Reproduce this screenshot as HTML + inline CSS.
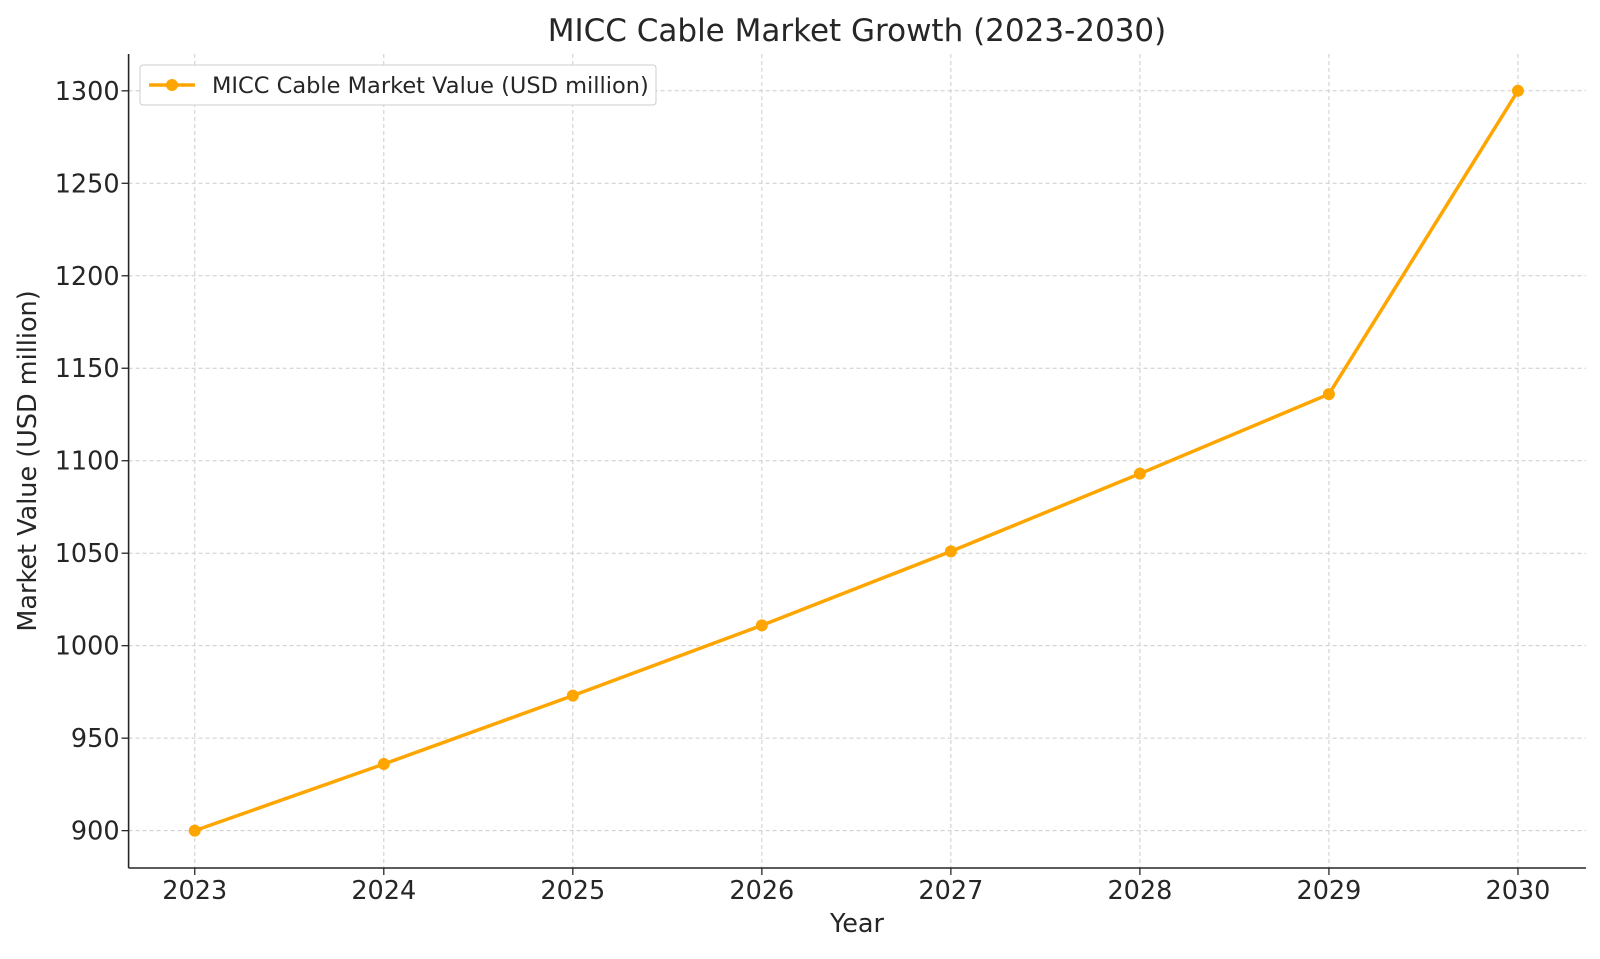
<!DOCTYPE html>
<html><head><meta charset="utf-8"><style>
body{margin:0;background:#fff;}
svg text{font-family:"DejaVu Sans","Liberation Sans",sans-serif;fill:#262626;}
</style></head><body>
<svg id="chart" width="1600" height="954" viewBox="0 0 1600 954">
<text x="857" y="41" font-size="31" text-anchor="middle">MICC Cable Market Growth (2023-2030)</text>
<text x="857" y="932" font-size="25.5" text-anchor="middle">Year</text>
<text transform="translate(36,461) rotate(-90)" font-size="25.5" text-anchor="middle">Market Value (USD million)</text>
<g id="grid"></g><g id="series"></g><g id="axes"></g>
<g>
<rect x="140" y="65" width="516" height="40" fill="#fff" stroke="#ccc" rx="3"/>
<line x1="149" y1="85" x2="195" y2="85" stroke="#FFA500" stroke-width="3.5"/>
<circle cx="172" cy="85" r="6" fill="#FFA500"/>
<text x="212" y="93" font-size="22.5">MICC Cable Market Value (USD million)</text>
</g>
</svg>
<script>
const years=[2023,2024,2025,2026,2027,2028,2029,2030];
const values=[900,936,973,1011,1051,1093,1136,1300];
const yTicks=[900,950,1000,1050,1100,1150,1200,1250,1300];
const L=128.6,R=1586,T=54,B=868,xMin=2022.65,xMax=2030.36,yMin=879.8,yMax=1319.9;
const sx=v=>L+(v-xMin)/(xMax-xMin)*(R-L);
const sy=v=>B-(v-yMin)/(yMax-yMin)*(B-T);
const NS="http://www.w3.org/2000/svg";
function mk(tag,attrs,parent){const e=document.createElementNS(NS,tag);for(const k in attrs)e.setAttribute(k,attrs[k]);parent.appendChild(e);return e;}
const grid=document.getElementById('grid'),axes=document.getElementById('axes'),series=document.getElementById('series');
years.forEach(y=>{
 const g=mk('line',{x1:sx(y),x2:sx(y),y1:T,y2:B,stroke:'#ccc','stroke-dasharray':'4,3','stroke-width':1},grid);
 
 
 mk('line',{x1:sx(y),x2:sx(y),y1:B,y2:B+7,stroke:'#262626','stroke-width':1.3},axes);
 const t=mk('text',{x:sx(y),y:B+31,'font-size':25.5,'text-anchor':'middle'},axes);t.textContent=y;
 
 
});
yTicks.forEach(v=>{
 const g=mk('line',{x1:L,x2:R,y1:sy(v),y2:sy(v),stroke:'#ccc','stroke-dasharray':'4,3','stroke-width':1},grid);
 
 
 mk('line',{x1:L-7,x2:L,y1:sy(v),y2:sy(v),stroke:'#262626','stroke-width':1.3},axes);
 const t=mk('text',{x:L-9,y:sy(v)+9,'font-size':25.5,'text-anchor':'end'},axes);t.textContent=v;
 
 
});
const a1=mk('line',{x1:L,x2:L,y1:T,y2:B,stroke:'#262626','stroke-width':1.6},axes);


const a2=mk('line',{x1:L,x2:R,y1:B,y2:B,stroke:'#262626','stroke-width':1.6},axes);


const pl=mk('polyline',{points:years.map((y,i)=>sx(y)+','+sy(values[i])).join(' '),fill:'none',stroke:'#FFA500','stroke-width':3.5},series);


years.forEach((y,i)=>{
 const c=mk('circle',{cx:sx(y),cy:sy(values[i]),r:6,fill:'#FFA500'},series);
 
 
});
</script>
</body></html>
